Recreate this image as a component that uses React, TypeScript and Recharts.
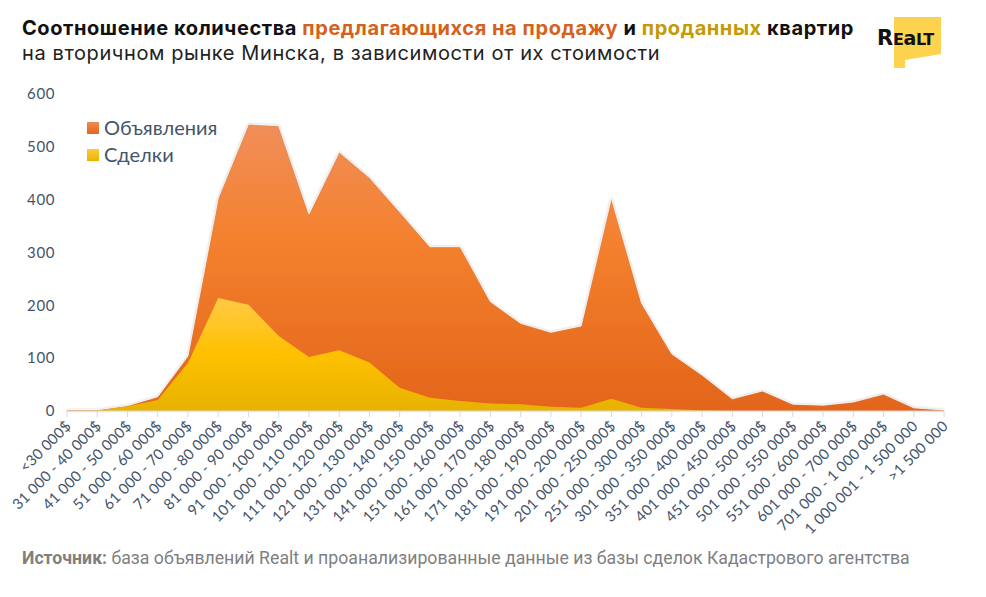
import React from "react";
import { Area, AreaChart, Legend, XAxis, YAxis } from "recharts";

const categories = [
  "<30 000$", "31 000 - 40 000$", "41 000 - 50 000$", "51 000 - 60 000$", "61 000 - 70 000$",
  "71 000 - 80 000$", "81 000 - 90 000$", "91 000 - 100 000$", "101 000 - 110 000$", "111 000 - 120 000$",
  "121 000 - 130 000$", "131 000 - 140 000$", "141 000 - 150 000$", "151 000 - 160 000$", "161 000 - 170 000$",
  "171 000 - 180 000$", "181 000 - 190 000$", "191 000 - 200 000$", "201 000 - 250 000$", "251 000 - 300 000$",
  "301 000 - 350 000$", "351 000 - 400 000$", "401 000 - 450 000$", "451 000 - 500 000$", "501 000 - 550 000$",
  "551 000 - 600 000$", "601 000 - 700 000$", "701 000 - 1 000 000$", "1 000 001 - 1 500 000", ">1 500 000",
];

// объявления на Realt
const listings = [
  2, 2, 10, 27, 104, 403, 543, 540, 373, 490,
  442, 377, 311, 311, 207, 166, 149, 161, 403, 204,
  108, 68, 23, 38, 13, 11, 17, 32, 6, 2,
];

// сделки по данным Кадастрового агентства
const deals = [
  0, 1, 9, 21, 91, 214, 201, 142, 102, 115,
  92, 44, 25, 19, 14, 13, 8, 6, 23, 6,
  4, 1, 0, 0, 0, 0, 0, 0, 0, 0,
];

const yTicks = [0, 100, 200, 300, 400, 500, 600];

const data = categories.map((c, i) => ({ cat: c, listings: listings[i], deals: deals[i] }));

const TEXT = "#44546a";
const AXIS_FONT = "Lato, 'Open Sans', sans-serif";
const TITLE_FONT = "Inter, 'Open Sans', sans-serif";

function AngledTick(props: any) {
  const { x, y, payload } = props;
  const ax = x + 5;
  const ay = y + 8;
  return (
    <text
      x={ax}
      y={ay}
      transform={`rotate(-45, ${ax}, ${ay})`}
      textAnchor="end"
      fill={TEXT}
      fontSize={14.8}
      letterSpacing={0.2}
      fontFamily={AXIS_FONT}
    >
      {payload.value}
    </text>
  );
}

function LegendBox({ payload }: any) {
  const items = [...(payload || [])].sort((a: any) => (a.dataKey === "listings" ? -1 : 1));
  return (
    <div style={{ fontFamily: AXIS_FONT, fontSize: 20, color: TEXT, lineHeight: "27px" }}>
      {items.map((it: any) => (
        <div key={it.dataKey} style={{ display: "flex", alignItems: "center" }}>
          <span
            style={{
              width: 12, height: 12, marginRight: 5, display: "inline-block",
              background: it.dataKey === "listings"
                ? "linear-gradient(#f08a52, #e4661a)"
                : "linear-gradient(#ffc83c, #e8b500)",
            }}
          />
          {it.value}
        </div>
      ))}
    </div>
  );
}

function Logo() {
  return (
    <svg width={90} height={60} style={{ position: "absolute", left: 874, top: 12 }}>
      <polygon points="20,5 67,5 67,42 31,48 31,56 20,56" fill="#fdd24f" />
      <text x={3} y={33} fontFamily="'DejaVu Sans', sans-serif" fontWeight={700} fill="#111" letterSpacing={-0.3}>
        <tspan fontSize={21}>R</tspan>
        <tspan fontSize={16}>E</tspan>
        <tspan fontSize={19}>a</tspan>
        <tspan fontSize={16}>LT</tspan>
      </text>
    </svg>
  );
}

export default function App() {
  return (
    <div style={{ position: "relative", width: 986, height: 597, margin: -8, background: "#fff", overflow: "hidden" }}>
      <div
        style={{
          position: "absolute", left: 22, top: 15.5, fontFamily: TITLE_FONT, fontWeight: 700,
          fontSize: 20, color: "#111", whiteSpace: "nowrap", lineHeight: "24px", letterSpacing: 0.58,
        }}
      >
        Соотношение количества <span style={{ color: "#d4621c" }}>предлагающихся на продажу</span> и{" "}
        <span style={{ color: "#c49a06" }}>проданных</span> квартир
      </div>
      <div
        style={{
          position: "absolute", left: 22, top: 40.5, fontFamily: TITLE_FONT, fontWeight: 400,
          fontSize: 20, color: "#222", whiteSpace: "nowrap", lineHeight: "24px", letterSpacing: 0.6,
        }}
      >
        на вторичном рынке Минска, в зависимости от их стоимости
      </div>
      <Logo />

      <AreaChart width={986} height={597} data={data} margin={{ top: 94, right: 42, bottom: 0, left: 0 }}>
        <defs>
          <linearGradient id="gradListings" x1="0" y1="0" x2="0" y2="1">
            <stop offset="0" stopColor="#f18e5a" />
            <stop offset="0.4" stopColor="#f4812e" />
            <stop offset="1" stopColor="#e3651a" />
          </linearGradient>
          <linearGradient id="gradDeals" x1="0" y1="0" x2="0" y2="1">
            <stop offset="0" stopColor="#ffca45" />
            <stop offset="0.5" stopColor="#ffc000" />
            <stop offset="1" stopColor="#e6b200" />
          </linearGradient>
          <filter id="edgeShadow" x="-5%" y="-5%" width="110%" height="110%">
            <feDropShadow dx="0" dy="0" stdDeviation="1.2" floodColor="#8a8a8a" floodOpacity="0.45" />
          </filter>
        </defs>
        <XAxis
          dataKey="cat"
          interval={0}
          tick={<AngledTick />}
          tickSize={6}
          stroke="#d9d9d9"
          height={186}
        />
        <YAxis
          domain={[0, 600]}
          ticks={yTicks}
          width={67}
          axisLine={false}
          tickLine={false}
          tickMargin={6}
          tick={{ fill: TEXT, fontSize: 15, fontFamily: AXIS_FONT, letterSpacing: 0.6 }}
        />
        <Legend
          verticalAlign="middle"
          align="center"
          layout="vertical"
          content={<LegendBox />}
          wrapperStyle={{ position: "absolute", left: 87, top: 114, width: 200 }}
        />
        <Area
          type="linear"
          dataKey="listings"
          name="Объявления"
          stroke="#ffffff"
          strokeWidth={0.8}
          fill="url(#gradListings)"
          fillOpacity={1}
          filter="url(#edgeShadow)"
          isAnimationActive={false}
          dot={false}
          activeDot={false}
        />
        <Area
          type="linear"
          dataKey="deals"
          name="Сделки"
          stroke="none"
          fill="url(#gradDeals)"
          fillOpacity={1}
          isAnimationActive={false}
          dot={false}
          activeDot={false}
        />
      </AreaChart>

      <div
        style={{
          position: "absolute", left: 22, top: 548, fontFamily: "Roboto, sans-serif", fontSize: 17.7,
          color: "#7f7f7f", whiteSpace: "nowrap",
        }}
      >
        <b>Источник:</b> база объявлений Realt и проанализированные данные из базы сделок Кадастрового агентства
      </div>
    </div>
  );
}
